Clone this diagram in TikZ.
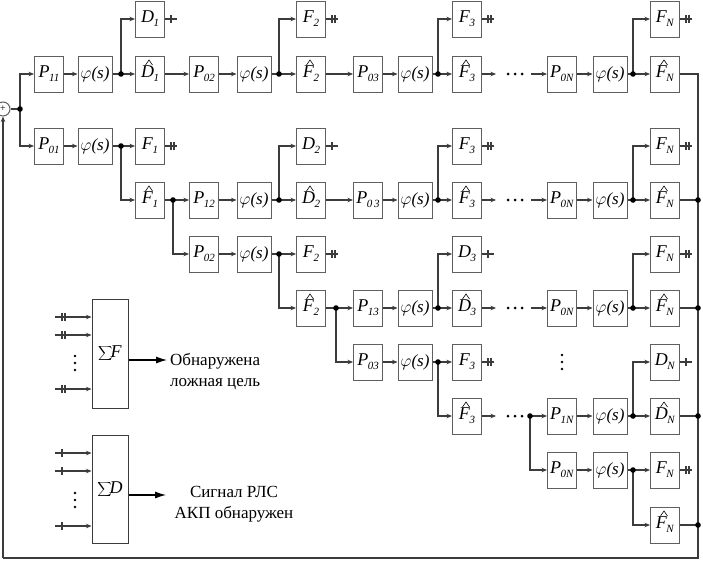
\documentclass[tikz,border=0pt]{standalone}
\usepackage{fontspec}
\setmainfont{Liberation Serif}
\usetikzlibrary{arrows.meta}
\definecolor{ln}{RGB}{60,60,60}
\definecolor{bx}{RGB}{95,95,95}
\newcommand{\Sb}[1]{\kern-0.5pt\raisebox{-0.5ex}{\fontsize{11}{11}\selectfont\textit{#1}}}
\newcommand{\Ph}{{\fontsize{17}{18}\selectfont$\varphi$\textit{(s)}}}
\newcommand{\outD}[1]{\draw[wire] (#1.east) -- ++(12,0); \draw[wire] ([xshift=6pt]#1.east) ++(0,-4) -- ++(0,8);}
\newcommand{\outF}[1]{\draw[wire] (#1.east) -- ++(12,0); \draw[wire] ([xshift=6pt]#1.east) ++(0,-4) -- ++(0,8); \draw[wire] ([xshift=9pt]#1.east) ++(0,-4) -- ++(0,8);}
\newcommand{\hatt}[1]{\draw[hatline] ([xshift=-4.5pt,yshift=9pt]#1.center) -- ++(3.5,-5) -- ++(3.5,5);}
\newcommand{\jdot}[1]{\fill[black] (#1) circle (2.8pt);}
\begin{document}
\begin{tikzpicture}[x=1pt,y=-1pt,
  wire/.style={draw=ln, line width=1.1pt},
  hatline/.style={draw=black, line width=0.6pt},
  arr/.style={wire, -{Stealth[length=5.5pt,width=4.5pt]}},
  bigarr/.style={draw=black, line width=1.1pt, -{Latex[length=11pt,width=7pt]}},
  blk/.style={draw=bx, line width=1pt, minimum width=29pt, minimum height=36pt, inner sep=0pt, font=\fontsize{18}{20}\selectfont},
  pbk/.style={blk, minimum width=34pt},
  txt/.style={font=\fontsize{17}{21}\selectfont, inner sep=0pt}]
\useasboundingbox (0,0) rectangle (703,563);
% ---------- row 0 (top outputs)
\node[blk] (D1)  at (150,19) {\textit{D}\Sb{1}};
\node[blk] (F2a) at (311,19) {\textit{F}\Sb{2}};
\node[blk] (F3a) at (467,19) {\textit{F}\Sb{3}};
\node[blk] (FNa) at (665,19) {\textit{F}\Sb{N}};
% ---------- row 1
\node[blk] (P11)  at (49,74)  {\textit{P}\Sb{11}};
\node[pbk] (phi1) at (95,74)  {\Ph};
\node[blk] (Dh1)  at (150,74) {\textit{D}\Sb{1}};
\node[blk] (P02a) at (204,74) {\textit{P}\Sb{02}};
\node[pbk] (phi2) at (254,74) {\Ph};
\node[blk] (Fh2a) at (311,74) {\textit{F}\Sb{2}};
\node[blk] (P03a) at (368,74) {\textit{P}\Sb{03}};
\node[pbk] (phi3) at (415,74) {\Ph};
\node[blk] (Fh3a) at (467,74) {\textit{F}\Sb{3}};
\node[blk] (P0Na) at (562,74) {\textit{P}\Sb{0N}};
\node[pbk] (phi4) at (610,74) {\Ph};
\node[blk] (FhNa) at (665,74) {\textit{F}\Sb{N}};
% ---------- row 2
\node[blk] (P01)  at (49,146)  {\textit{P}\Sb{01}};
\node[pbk] (phi5) at (95,146)  {\Ph};
\node[blk] (F1)   at (150,146) {\textit{F}\Sb{1}};
\node[blk] (D2)   at (311,146) {\textit{D}\Sb{2}};
\node[blk] (F3b)  at (467,146) {\textit{F}\Sb{3}};
\node[blk] (FNb)  at (665,146) {\textit{F}\Sb{N}};
% ---------- row 3
\node[blk] (Fh1)  at (150,200) {\textit{F}\Sb{1}};
\node[blk] (P12)  at (204,200) {\textit{P}\Sb{12}};
\node[pbk] (phi6) at (254,200) {\Ph};
\node[blk] (Dh2)  at (311,200) {\textit{D}\Sb{2}};
\node[blk] (P03b) at (368,200) {\textit{P}\Sb{0\,3}};
\node[pbk] (phi7) at (415,200) {\Ph};
\node[blk] (Fh3b) at (467,200) {\textit{F}\Sb{3}};
\node[blk] (P0Nb) at (562,200) {\textit{P}\Sb{0N}};
\node[pbk] (phi8) at (610,200) {\Ph};
\node[blk] (FhNb) at (665,200) {\textit{F}\Sb{N}};
% ---------- row 4
\node[blk] (P02b) at (204,254) {\textit{P}\Sb{02}};
\node[pbk] (phi9) at (254,254) {\Ph};
\node[blk] (F2b)  at (311,254) {\textit{F}\Sb{2}};
\node[blk] (D3)   at (467,254) {\textit{D}\Sb{3}};
\node[blk] (FNc)  at (665,254) {\textit{F}\Sb{N}};
% ---------- row 5
\node[blk] (Fh2b)  at (311,308) {\textit{F}\Sb{2}};
\node[blk] (P13)   at (368,308) {\textit{P}\Sb{13}};
\node[pbk] (phi10) at (415,308) {\Ph};
\node[blk] (Dh3)   at (467,308) {\textit{D}\Sb{3}};
\node[blk] (P0Nc)  at (562,308) {\textit{P}\Sb{0N}};
\node[pbk] (phi11) at (610,308) {\Ph};
\node[blk] (FhNc)  at (665,308) {\textit{F}\Sb{N}};
% ---------- row 6
\node[blk] (P03c)  at (368,362) {\textit{P}\Sb{03}};
\node[pbk] (phi12) at (415,362) {\Ph};
\node[blk] (F3c)   at (467,362) {\textit{F}\Sb{3}};
\node[blk] (DN)    at (665,362) {\textit{D}\Sb{N}};
% ---------- row 7
\node[blk] (Fh3c)  at (467,416) {\textit{F}\Sb{3}};
\node[blk] (P1N)   at (562,416) {\textit{P}\Sb{1N}};
\node[pbk] (phi13) at (610,416) {\Ph};
\node[blk] (DhN)   at (665,416) {\textit{D}\Sb{N}};
% ---------- row 8/9
\node[blk] (P0Nd)  at (562,470) {\textit{P}\Sb{0N}};
\node[pbk] (phi14) at (610,470) {\Ph};
\node[blk] (FNd)   at (665,470) {\textit{F}\Sb{N}};
\node[blk] (FhNd)  at (665,525) {\textit{F}\Sb{N}};
% hats
\foreach \h in {Dh1,Fh2a,Fh3a,FhNa,Fh1,Dh2,Fh3b,FhNb,Fh2b,Dh3,FhNc,Fh3c,DhN,FhNd} {\hatt{\h}}
% ---------- summer
\node[draw=bx, line width=1pt, circle, minimum size=14pt, inner sep=0pt, font=\fontsize{10}{10}\selectfont] (sum) at (3,109) {+};
% junction coordinates
\coordinate (s0)  at (20,109);
\coordinate (j1a) at (121,74);  \coordinate (j1b) at (279,74);  \coordinate (j1c) at (438,74);  \coordinate (j1d) at (633,74);
\coordinate (j2a) at (121,146);
\coordinate (j3a) at (173,200); \coordinate (j3b) at (279,200); \coordinate (j3c) at (438,200); \coordinate (j3d) at (633,200);
\coordinate (j4a) at (279,254);
\coordinate (j5a) at (336,308); \coordinate (j5b) at (438,308); \coordinate (j5c) at (633,308);
\coordinate (j6a) at (438,362);
\coordinate (j7a) at (530,416); \coordinate (j7b) at (633,416);
\coordinate (j8a) at (633,470);
% bus coordinates
\coordinate (bt) at (698,74);  \coordinate (b3) at (698,200); \coordinate (b5) at (698,308);
\coordinate (b7) at (698,416); \coordinate (b9) at (698,525);
\coordinate (bb) at (698,558); \coordinate (bl) at (3,558);
% ---------- input split
\draw[wire] (sum) -- (s0);
\draw[arr] (s0) |- (P11);
\draw[arr] (s0) |- (P01);
% ---------- row 1 chain
\draw[arr] (P11) -- (phi1);
\draw[wire] (phi1) -- (j1a);
\draw[arr] (j1a) -- (Dh1);
\draw[arr] (j1a) |- (D1);
\draw[arr] (Dh1) -- (P02a);
\draw[arr] (P02a) -- (phi2);
\draw[wire] (phi2) -- (j1b);
\draw[arr] (j1b) -- (Fh2a);
\draw[arr] (j1b) |- (F2a);
\draw[arr] (Fh2a) -- (P03a);
\draw[arr] (P03a) -- (phi3);
\draw[wire] (phi3) -- (j1c);
\draw[arr] (j1c) -- (Fh3a);
\draw[arr] (j1c) |- (F3a);
\coordinate (e1) at (496,74); \coordinate (s1) at (531,74);
\draw[arr] (Fh3a) -- (e1);
\draw[arr] (s1) -- (P0Na);
\draw[arr] (P0Na) -- (phi4);
\draw[wire] (phi4) -- (j1d);
\draw[arr] (j1d) -- (FhNa);
\draw[arr] (j1d) |- (FNa);
% ---------- row 2 chain
\draw[arr] (P01) -- (phi5);
\draw[wire] (phi5) -- (j2a);
\draw[arr] (j2a) -- (F1);
\draw[arr] (j2a) |- (Fh1);
% ---------- row 3 chain
\draw[wire] (Fh1) -- (j3a);
\draw[arr] (j3a) -- (P12);
\draw[arr] (j3a) |- (P02b);
\draw[arr] (P12) -- (phi6);
\draw[wire] (phi6) -- (j3b);
\draw[arr] (j3b) -- (Dh2);
\draw[arr] (j3b) |- (D2);
\draw[arr] (Dh2) -- (P03b);
\draw[arr] (P03b) -- (phi7);
\draw[wire] (phi7) -- (j3c);
\draw[arr] (j3c) -- (Fh3b);
\draw[arr] (j3c) |- (F3b);
\coordinate (e3) at (496,200); \coordinate (s3) at (531,200);
\draw[arr] (Fh3b) -- (e3);
\draw[arr] (s3) -- (P0Nb);
\draw[arr] (P0Nb) -- (phi8);
\draw[wire] (phi8) -- (j3d);
\draw[arr] (j3d) -- (FhNb);
\draw[arr] (j3d) |- (FNb);
% ---------- row 4 chain
\draw[arr] (P02b) -- (phi9);
\draw[wire] (phi9) -- (j4a);
\draw[arr] (j4a) -- (F2b);
\draw[arr] (j4a) |- (Fh2b);
% ---------- row 5 chain
\draw[wire] (Fh2b) -- (j5a);
\draw[arr] (j5a) -- (P13);
\draw[arr] (j5a) |- (P03c);
\draw[arr] (P13) -- (phi10);
\draw[wire] (phi10) -- (j5b);
\draw[arr] (j5b) -- (Dh3);
\draw[arr] (j5b) |- (D3);
\coordinate (e5) at (496,308); \coordinate (s5) at (531,308);
\draw[arr] (Dh3) -- (e5);
\draw[arr] (s5) -- (P0Nc);
\draw[arr] (P0Nc) -- (phi11);
\draw[wire] (phi11) -- (j5c);
\draw[arr] (j5c) -- (FhNc);
\draw[arr] (j5c) |- (FNc);
% ---------- row 6 chain
\draw[arr] (P03c) -- (phi12);
\draw[wire] (phi12) -- (j6a);
\draw[arr] (j6a) -- (F3c);
\draw[arr] (j6a) |- (Fh3c);
% ---------- row 7 chain
\coordinate (e7) at (496,416);
\draw[arr] (Fh3c) -- (e7);
\draw[arr] (j7a) -- (P1N);
\draw[arr] (j7a) |- (P0Nd);
\draw[arr] (P1N) -- (phi13);
\draw[wire] (phi13) -- (j7b);
\draw[arr] (j7b) -- (DhN);
\draw[arr] (j7b) |- (DN);
% ---------- row 8 chain
\draw[arr] (P0Nd) -- (phi14);
\draw[wire] (phi14) -- (j8a);
\draw[arr] (j8a) -- (FNd);
\draw[arr] (j8a) |- (FhNd);
% ---------- feedback bus
\draw[wire] (FhNa) -- (bt) -- (bb) -- (bl);
\draw[arr] (bl) -- (sum);
\draw[wire] (FhNb) -- (b3);
\draw[wire] (FhNc) -- (b5);
\draw[wire] (DhN) -- (b7);
\draw[wire] (FhNd) -- (b9);
% ---------- output stubs
\outD{D1} \outF{F2a} \outF{F3a} \outF{FNa}
\outF{F1} \outD{D2} \outF{F3b} \outF{FNb}
\outF{F2b} \outD{D3} \outF{FNc}
\outF{F3c} \outD{DN} \outF{FNd}
% ---------- dots
\foreach \r in {74,200,308,416} {\foreach \x in {508,515,522} \fill[black] (\x,\r) circle (1.5pt);}
\foreach \y in {355,362,369} \fill[black] (562,\y) circle (1.4pt);
\foreach \c in {s0,j1a,j1b,j1c,j1d,j2a,j3a,j3b,j3c,j3d,j4a,j5a,j5b,j5c,j6a,j7a,j7b,j8a,b3,b5,b7,b9} {\jdot{\c}}
% ---------- summation blocks
\node[draw=ln, line width=1pt, minimum width=36pt, minimum height=109pt, inner sep=0pt, font=\fontsize{18}{20}\selectfont] (SF) at (110,353.5) {$\displaystyle\sum$\kern-2pt\textit{F}};
\node[draw=ln, line width=1pt, minimum width=36pt, minimum height=108pt, inner sep=0pt, font=\fontsize{18}{20}\selectfont] (SD) at (110,489) {$\displaystyle\sum$\kern-2pt\textit{D}};
\foreach \y/\n in {317/a,335/b,389/c} {
  \coordinate (iF\n) at (55,\y);
  \draw[arr] (iF\n) -- (iF\n -| SF.west);
  \draw[wire] (62,\y-4) -- (62,\y+4); \draw[wire] (65,\y-4) -- (65,\y+4);
}
\foreach \y/\n in {453/a,471/b,526/c} {
  \coordinate (iD\n) at (55,\y);
  \draw[arr] (iD\n) -- (iD\n -| SD.west);
  \draw[wire] (62,\y-4) -- (62,\y+4);
}
\foreach \y in {356,363,370} \fill[black] (75,\y) circle (1.4pt);
\foreach \y in {493,500,507} \fill[black] (75,\y) circle (1.4pt);
% ---------- texts
\node[txt, align=left, anchor=west] (tF) at (170,372) {Обнаружена\\ложная цель};
\node[txt, align=center] (tD) at (234,504) {Сигнал РЛС\\АКП обнаружен};
\coordinate (aF) at (167,360);
\coordinate (aD) at (166,495);
\draw[bigarr] (SF.east |- aF) -- (aF);
\draw[bigarr] (SD.east |- aD) -- (aD);
\end{tikzpicture}
\end{document}
